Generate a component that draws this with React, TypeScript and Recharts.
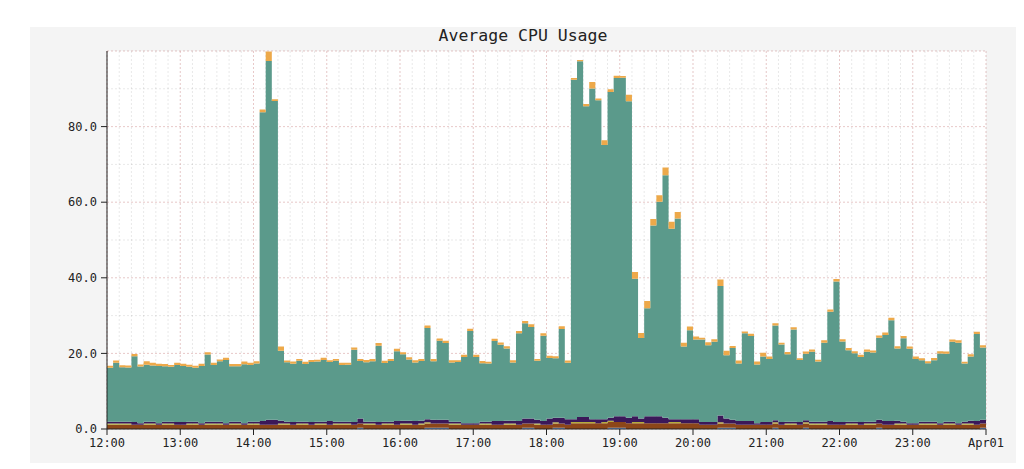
import React from "react";
import { AreaChart, Area, XAxis, YAxis, CartesianGrid } from "recharts";

// 5-minute buckets from 12:00 to 23:55, one row per hour
const hourLabels = ["12:00", "13:00", "14:00", "15:00", "16:00", "17:00", "18:00", "19:00", "20:00", "21:00", "22:00", "23:00", "Apr01"];

const blue = [
  0, 0, 0, 0, 0, 0, 0, 0, 0, 0, 0, 0,
  0, 0, 0, 0, 0, 0, 0, 0, 0, 0, 0, 0,
  0, 0, 0, 0, 0, 0, 0, 0, 0, 0, 0, 0,
  0, 0, 0, 0, 0, 0.35, 0, 0, 0, 0, 0, 0,
  0, 0, 0, 0, 0.35, 0.35, 0.35, 0.35, 0, 0, 0, 0,
  0, 0, 0, 0, 0, 0, 0, 0, 0.35, 0.35, 0, 0,
  0, 0.35, 0.35, 0, 0, 0, 0, 0, 0, 0, 0.35, 0.35,
  0.35, 0, 0, 0, 0, 0, 0, 0, 0, 0, 0, 0,
  0, 0, 0, 0, 0.35, 0.35, 0.35, 0, 0, 0, 0, 0,
  0, 0.35, 0, 0, 0, 0, 0.35, 0, 0, 0, 0, 0,
  0, 0, 0, 0, 0, 0, 0.35, 0, 0, 0, 0, 0,
  0, 0, 0, 0, 0, 0, 0, 0, 0, 0, 0, 0.35,
];

const brown = [
  1.1, 1.1, 1.1, 1.1, 1.1, 1.1, 1.1, 1.1, 1.1, 1.1, 1.1, 1.1,
  1.1, 1.1, 1.1, 1.1, 1.1, 1.1, 1.1, 1.1, 1.1, 1.1, 1.1, 1.1,
  1.1, 1.1, 1.1, 1.1, 1.1, 1.1, 1.1, 1.1, 1.1, 1.1, 1.1, 1.1,
  1.1, 1.1, 1.1, 1.1, 1.1, 1.1, 1.1, 1.1, 1.1, 1.1, 1.1, 1.1,
  1.1, 1.1, 1.1, 1.1, 1.1, 1.1, 1.1, 1.1, 1.1, 1.1, 1.1, 1.1,
  1.1, 1.1, 1.1, 1.1, 1.1, 1.1, 1.1, 1.1, 1.1, 1.1, 1.1, 1.1,
  1.1, 1.1, 1.1, 1.1, 1.5, 1.5, 1.5, 1.5, 1.5, 1.5, 1.5, 1.5,
  1.5, 1.5, 1.5, 1.5, 1.5, 1.5, 1.5, 1.5, 1.5, 1.5, 1.5, 1.5,
  1.5, 1.1, 1.1, 1.1, 1.1, 1.1, 1.1, 1.1, 1.1, 1.1, 1.1, 1.1,
  1.1, 1.1, 1.1, 1.1, 1.1, 1.1, 1.1, 1.1, 1.1, 1.1, 1.1, 1.1,
  1.1, 1.1, 1.1, 1.1, 1.1, 1.1, 1.1, 1.1, 1.1, 1.1, 1.1, 1.1,
  1.1, 1.1, 1.1, 1.1, 1.1, 1.1, 1.1, 1.1, 1.1, 1.1, 1.1, 1.1,
];

const olive = [
  0.35, 0.35, 0.35, 0.35, 0, 0, 0.35, 0.35, 0, 0.35, 0.35, 0,
  0, 0.35, 0.35, 0, 0.35, 0.35, 0.35, 0, 0.35, 0.35, 0, 0.35,
  0.35, 0, 0, 0, 0.35, 0.35, 0, 0.35, 0.35, 0, 0.35, 0.35,
  0, 0.35, 0.35, 0.35, 0, 0, 0.35, 0.35, 0, 0.35, 0.35, 0,
  0.35, 0.35, 0, 0.35, 0.35, 0, 0, 0, 0.35, 0.35, 0, 0,
  0, 0.35, 0.35, 0, 0, 0.35, 0.35, 0, 0, 0, 0.35, 0,
  0, 0.35, 0, 0, 0.35, 0.35, 0.35, 0.35, 0, 0.35, 0.35, 0,
  0, 0, 0.35, 0.35, 0, 0, 0, 0, 0.35, 0.35, 0, 0,
  0, 0, 0, 0, 0.35, 0, 0, 0, 0, 0, 0, 0,
  0, 0.35, 0, 0.35, 0.35, 0, 0.35, 0.35, 0.35, 0.35, 0, 0,
  0, 0.35, 0.35, 0, 0.35, 0.35, 0, 0, 0, 0.35, 0.35, 0,
  0, 0.35, 0.35, 0.35, 0, 0.35, 0.35, 0, 0.35, 0.35, 0, 0,
];

const purple = [
  0.45, 0.5, 0.5, 0.45, 0.75, 0.45, 0.45, 0.45, 0.45, 0.45, 0.5, 0.75,
  0.75, 0.45, 0.45, 0.45, 0.45, 0.45, 0.45, 0.45, 0.45, 0.45, 0.45, 0.5,
  0.5, 1.0, 1.35, 1.35, 0.75, 0.5, 0.75, 0.5, 0.45, 0.75, 0.5, 0.5,
  1.0, 0.5, 0.45, 0.45, 0.75, 1.35, 0.5, 0.5, 0.75, 0.5, 0.45, 1.0,
  0.75, 0.75, 1.0, 0.75, 0.75, 1.0, 1.0, 1.0, 0.45, 0.45, 0.45, 0.45,
  0.45, 0.45, 0.45, 1.0, 1.0, 0.75, 0.75, 1.0, 1.35, 1.35, 1.0, 1.0,
  1.7, 1.15, 1.5, 1.5, 0.75, 1.35, 1.35, 0.75, 1.1, 0.75, 0.75, 1.5,
  1.5, 1.5, 1.5, 0.95, 1.85, 1.85, 1.85, 1.5, 0.75, 0.75, 1.1, 1.1,
  1.1, 0.75, 0.75, 0.75, 1.75, 1.35, 1.0, 1.0, 1.0, 1.0, 0.45, 0.75,
  0.75, 0.5, 0.75, 0.5, 0.5, 0.75, 0.5, 0.5, 0.5, 0.5, 1.0, 0.75,
  0.75, 0.5, 0.5, 0.75, 0.5, 0.5, 1.0, 1.0, 1.0, 0.75, 0.45, 0.45,
  0.45, 0.45, 0.45, 0.45, 0.45, 0.45, 0.45, 0.45, 0.45, 0.75, 1.0, 1.0,
];

const teal = [
  14.3, 15.6, 14.4, 14.4, 17.4, 15.0, 15.1, 14.9, 15.1, 14.7, 14.5, 15.1,
  14.8, 14.6, 14.3, 15.1, 17.8, 15.0, 16.0, 16.7, 14.7, 14.7, 15.6, 15.0,
  15.4, 81.7, 94.9, 84.3, 18.5, 15.7, 15.4, 16.1, 15.3, 15.9, 15.9, 16.3,
  15.6, 16.1, 15.0, 15.1, 19.1, 15.2, 15.7, 16.0, 20.2, 15.5, 16.1, 18.5,
  17.6, 16.2, 15.5, 15.8, 24.2, 15.5, 20.9, 20.3, 15.7, 15.8, 17.5, 24.4,
  17.5, 15.5, 15.4, 21.2, 20.2, 19.1, 15.4, 23.2, 25.2, 24.2, 15.6, 22.6,
  16.0, 15.8, 23.5, 14.9, 89.8, 94.1, 82.2, 87.5, 84.4, 72.5, 86.2, 89.5,
  89.6, 83.7, 36.4, 21.3, 28.6, 50.5, 56.8, 64.1, 50.4, 53.1, 19.2, 23.5,
  21.1, 21.8, 20.3, 21.2, 34.3, 16.7, 19.0, 15.2, 23.2, 22.5, 15.5, 17.3,
  16.7, 25.1, 20.5, 17.8, 24.4, 16.4, 17.6, 18.5, 15.9, 20.9, 28.9, 37.2,
  21.3, 18.9, 18.1, 17.2, 18.5, 18.3, 21.7, 22.8, 26.7, 19.1, 22.1, 19.7,
  17.0, 16.3, 15.5, 16.3, 18.4, 18.0, 21.2, 21.3, 15.4, 17.0, 23.0, 19.1,
];

const orange = [
  0.5, 0.6, 0.5, 0.5, 0.6, 0.5, 0.9, 0.7, 0.6, 0.6, 0.5, 0.6,
  0.6, 0.5, 0.5, 0.6, 0.6, 0.6, 0.5, 0.6, 0.6, 0.6, 0.7, 0.6,
  0.6, 0.7, 2.5, 0.5, 1.1, 0.5, 0.6, 0.5, 0.6, 0.5, 0.5, 0.6,
  0.5, 0.5, 0.6, 0.5, 0.6, 0.5, 0.6, 0.6, 0.7, 0.6, 0.5, 0.6,
  0.5, 0.6, 0.6, 0.5, 0.6, 0.6, 0.6, 0.6, 0.6, 0.5, 0.6, 0.6,
  0.6, 0.6, 0.5, 0.6, 0.6, 0.6, 0.6, 0.6, 0.6, 0.7, 0.5, 0.6,
  0.6, 0.5, 0.7, 0.6, 0.45, 0.3, 0.6, 1.7, 0.45, 1.3, 0.7, 0.6,
  0.45, 1.7, 1.8, 1.3, 1.9, 1.7, 1.7, 2.1, 1.8, 1.7, 1.0, 1.0,
  0.8, 0.5, 0.8, 0.7, 1.7, 1.2, 0.5, 0.8, 0.5, 0.6, 0.8, 1.0,
  0.6, 0.6, 0.5, 0.6, 0.6, 0.5, 0.6, 0.6, 0.5, 0.6, 0.6, 0.6,
  0.6, 0.6, 0.5, 0.6, 0.6, 0.5, 0.6, 0.6, 0.6, 0.6, 0.6, 0.6,
  0.6, 0.5, 0.5, 0.6, 0.6, 0.6, 0.6, 0.6, 0.5, 0.6, 0.6, 0.6,
];

const STEP = 5; // minutes per bucket
const rows = teal.map((_, i) => ({
  t: i * STEP,
  blue: blue[i],
  brown: brown[i],
  olive: olive[i],
  purple: purple[i],
  teal: teal[i],
  orange: orange[i],
}));
// closing point so the last step reaches midnight
const data = [...rows, { ...rows[rows.length - 1], t: rows.length * STEP }];

const hourTicks = hourLabels.map((_, i) => i * 60);
const minorX: number[] = [];
for (let m = 0; m <= 720; m += 10) minorX.push(m);
const minorY: number[] = [];
for (let v = 0; v <= 100; v += 5) minorY.push(v);

const mono = "'DejaVu Sans Mono', monospace";
const tickStyle = { fontSize: 12, fill: "#222", fontFamily: mono };

const series = [
  { key: "blue", color: "#6b9be0" },
  { key: "brown", color: "#8c4619" },
  { key: "olive", color: "#b3ad3c" },
  { key: "purple", color: "#3b1859" },
  { key: "teal", color: "#5b9a8b" },
  { key: "orange", color: "#eda94a" },
];

export default function App() {
  return (
    <div style={{ position: "absolute", left: 30, top: 27, width: 986, height: 436, background: "#f4f4f4" }}>
      <div
        style={{
          position: "absolute",
          top: 0,
          left: 0,
          width: 986,
          textAlign: "center",
          fontFamily: mono,
          fontSize: 16.5,
          lineHeight: "18px",
          color: "#222",
        }}
      >
        Average CPU Usage
      </div>
      <AreaChart width={986} height={436} data={data} margin={{ top: 24, right: 30, left: 0, bottom: 0 }}>
        <CartesianGrid fill="#ffffff" horizontal={false} vertical={false} />
        {series.map((s) => (
          <Area
            key={s.key}
            type="stepAfter"
            dataKey={s.key}
            stackId="cpu"
            stroke="none"
            fill={s.color}
            fillOpacity={1}
            dot={false}
            activeDot={false}
            isAnimationActive={false}
          />
        ))}
        <CartesianGrid
          verticalValues={minorX}
          horizontalValues={minorY}
          stroke="rgba(0,0,0,0.09)"
          strokeDasharray="2 2"
        />
        <CartesianGrid
          verticalValues={hourTicks}
          horizontalValues={[0, 20, 40, 60, 80, 100]}
          stroke="rgba(230,90,90,0.22)"
          strokeDasharray="2 2"
        />
        <XAxis
          type="number"
          dataKey="t"
          domain={[0, 720]}
          ticks={hourTicks}
          tickFormatter={(v) => hourLabels[Math.round(v / 60)]}
          tick={tickStyle}
          tickSize={6}
          tickMargin={3}
          stroke="#222"
          height={34}
          interval={0}
          allowDataOverflow
        />
        <YAxis
          type="number"
          domain={[0, 100]}
          ticks={[0, 20, 40, 60, 80]}
          tickFormatter={(v) => Number(v).toFixed(1)}
          tick={tickStyle}
          tickSize={6}
          tickMargin={4}
          stroke="#222"
          width={77}
          allowDataOverflow
        />
      </AreaChart>
    </div>
  );
}
